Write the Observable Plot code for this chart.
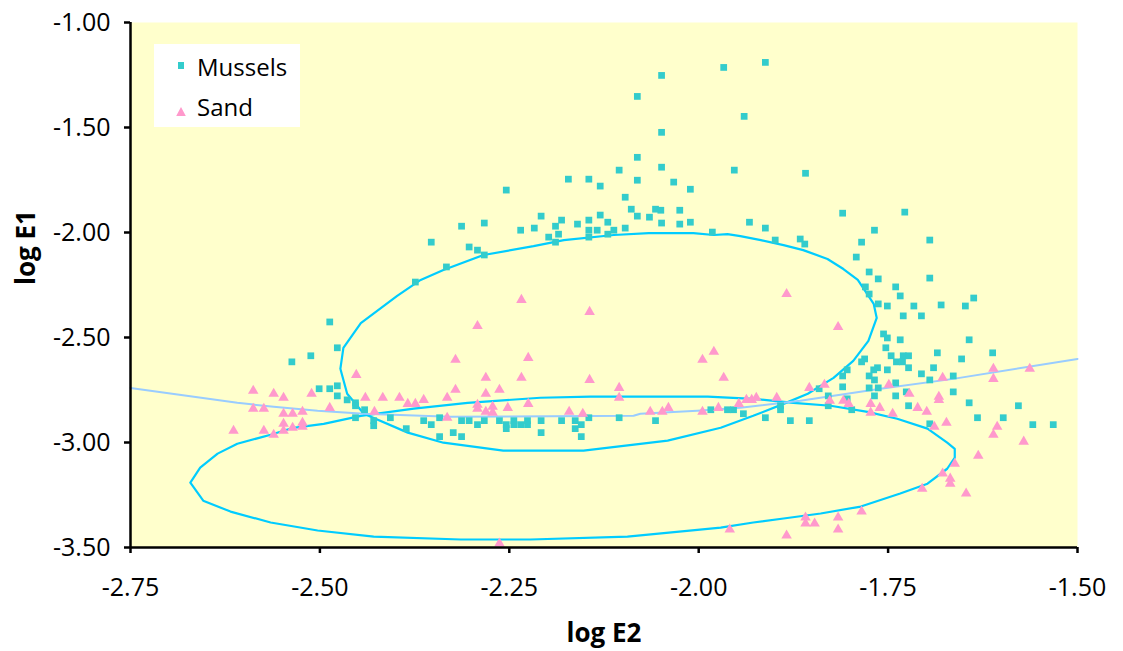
<!DOCTYPE html>
<html>
<head>
<meta charset="utf-8">
<script src="https://cdn.jsdelivr.net/npm/d3@7"></script>
<script src="https://cdn.jsdelivr.net/npm/@observablehq/plot@0.6"></script>
<style>
  body { margin: 0; background: white; }
  #wrap { position: relative; width: 1123px; height: 651px; }
  #legend { position: absolute; left: 154px; top: 44px; }
</style>
</head>
<body>
<div id="wrap"></div>
<script>
// Series names (legend order)
const seriesNames = ["Mussels", "Sand"];

// Axis ticks
const xTicks = [-2.75, -2.5, -2.25, -2.0, -1.75, -1.5];
const yTicks = [-3.5, -3.0, -2.5, -2.0, -1.5, -1.0];

// Mussels samples: [log E2, log E1]
const mussels = [
  [-2.353,-2.046],[-2.333,-2.164],[-1.967,-1.214],[-2.049,-1.252],[-2.081,-1.352],[-2.049,-1.523],[-2.081,-1.642],[-2.049,-1.689],[-1.953,-1.703],[-2.105,-1.703],
  [-2.172,-1.746],[-2.145,-1.746],[-2.081,-1.751],[-2.130,-1.779],[-2.254,-1.798],[-2.033,-1.760],[-2.011,-1.794],[-2.097,-1.832],[-2.089,-1.889],[-2.057,-1.889],
  [-2.050,-1.894],[-2.025,-1.894],[-2.081,-1.922],[-2.065,-1.927],[-2.130,-1.917],[-2.208,-1.922],[-2.181,-1.941],[-2.145,-1.941],[-2.120,-1.951],[-2.049,-1.955],
  [-2.025,-1.960],[-2.011,-1.951],[-2.313,-1.970],[-2.283,-1.955],[-2.189,-1.970],[-2.160,-1.960],[-2.235,-1.989],[-2.217,-1.979],[-2.145,-1.989],[-2.134,-1.989],
  [-2.112,-1.989],[-2.097,-1.979],[-2.198,-2.022],[-2.185,-2.008],[-2.145,-2.022],[-2.120,-2.008],[-2.189,-2.046],[-1.982,-1.998],[-2.303,-2.069],[-2.292,-2.084],
  [-2.283,-2.107],[-2.374,-2.236],[-1.912,-1.190],[-1.940,-1.447],[-1.859,-1.718],[-1.810,-1.908],[-1.728,-1.903],[-1.933,-1.951],[-1.912,-1.979],[-1.899,-2.036],
  [-1.866,-2.031],[-1.860,-2.055],[-1.768,-1.989],[-1.785,-2.046],[-1.695,-2.036],[-1.792,-2.117],[-1.775,-2.188],[-1.763,-2.221],[-1.695,-2.217],[-1.740,-2.259],
  [-1.780,-2.259],[-1.775,-2.293],[-1.734,-2.302],[-1.763,-2.340],[-1.751,-2.350],[-1.716,-2.350],[-1.680,-2.345],[-1.648,-2.350],[-1.637,-2.312],[-1.730,-2.397],
  [-1.706,-2.397],[-1.756,-2.483],[-1.751,-2.502],[-1.734,-2.511],[-1.643,-2.511],[-1.753,-2.549],[-1.612,-2.573],[-1.685,-2.573],[-1.746,-2.587],[-1.730,-2.587],
  [-1.723,-2.587],[-1.653,-2.602],[-1.781,-2.602],[-1.739,-2.616],[-1.731,-2.616],[-1.785,-2.616],[-1.804,-2.654],[-1.764,-2.644],[-1.751,-2.654],[-1.723,-2.644],
  [-1.690,-2.644],[-1.769,-2.654],[-1.810,-2.683],[-1.775,-2.683],[-1.768,-2.702],[-1.706,-2.673],[-1.695,-2.702],[-1.664,-2.683],[-1.740,-2.716],[-1.810,-2.735],
  [-1.775,-2.740],[-1.763,-2.740],[-1.841,-2.744],[-1.740,-2.778],[-1.768,-2.778],[-1.726,-2.759],[-1.664,-2.759],[-1.829,-2.778],[-1.804,-2.792],[-1.829,-2.825],
  [-1.798,-2.844],[-1.643,-2.811],[-1.723,-2.825],[-1.578,-2.825],[-1.892,-2.825],[-1.892,-2.844],[-1.941,-2.863],[-1.962,-2.844],[-1.954,-2.844],[-1.912,-2.882],
  [-1.879,-2.896],[-1.854,-2.896],[-1.695,-2.911],[-1.632,-2.882],[-1.598,-2.882],[-1.559,-2.915],[-1.532,-2.915],[-2.363,-2.896],[-2.353,-2.915],[-2.342,-2.882],
  [-2.342,-2.972],[-2.324,-2.953],[-2.313,-2.972],[-2.313,-2.896],[-2.303,-2.896],[-2.292,-2.915],[-2.283,-2.896],[-2.263,-2.896],[-2.254,-2.915],[-2.254,-2.934],
  [-2.244,-2.896],[-2.244,-2.915],[-2.235,-2.915],[-2.226,-2.896],[-2.226,-2.915],[-2.208,-2.896],[-2.208,-2.953],[-2.181,-2.896],[-2.163,-2.896],[-2.163,-2.934],
  [-2.155,-2.915],[-2.155,-2.972],[-2.145,-2.882],[-2.105,-2.882],[-2.057,-2.896],[-1.984,-2.844],[-2.487,-2.426],[-2.477,-2.549],[-2.537,-2.616],[-2.512,-2.587],
  [-2.501,-2.744],[-2.487,-2.744],[-2.477,-2.730],[-2.477,-2.778],[-2.464,-2.797],[-2.453,-2.811],[-2.453,-2.825],[-2.441,-2.844],[-2.453,-2.882],[-2.429,-2.896],
  [-2.429,-2.920],[-2.407,-2.882],[-2.386,-2.934]
];

// Sand samples: [log E2, log E1]
const sand = [
  [-2.614,-2.944],[-2.588,-2.754],[-2.588,-2.839],[-2.574,-2.839],[-2.574,-2.944],[-2.561,-2.768],[-2.561,-2.963],[-2.548,-2.787],[-2.548,-2.863],[-2.548,-2.911],
  [-2.548,-2.944],[-2.536,-2.863],[-2.536,-2.930],[-2.523,-2.854],[-2.523,-2.906],[-2.523,-2.925],[-2.511,-2.768],[-2.487,-2.835],[-2.452,-2.678],[-2.440,-2.787],
  [-2.428,-2.854],[-2.417,-2.787],[-2.395,-2.787],[-2.384,-2.816],[-2.374,-2.816],[-2.363,-2.797],[-2.332,-2.787],[-2.332,-2.882],[-2.321,-2.606],[-2.321,-2.749],
  [-2.292,-2.445],[-2.292,-2.820],[-2.292,-2.839],[-2.281,-2.692],[-2.281,-2.768],[-2.281,-2.854],[-2.272,-2.830],[-2.272,-2.858],[-2.263,-2.749],[-2.252,-2.835],
  [-2.234,-2.321],[-2.234,-2.692],[-2.225,-2.597],[-2.225,-2.816],[-2.171,-2.854],[-2.153,-2.863],[-2.144,-2.378],[-2.144,-2.702],[-2.105,-2.740],[-2.105,-2.787],
  [-2.064,-2.854],[-2.048,-2.854],[-2.040,-2.835],[-1.995,-2.606],[-1.995,-2.854],[-1.980,-2.568],[-1.974,-2.835],[-1.967,-2.692],[-1.947,-2.816],[-2.263,-3.481],
  [-1.959,-3.414],[-1.884,-2.293],[-1.816,-2.450],[-1.937,-2.797],[-1.930,-2.797],[-1.924,-2.787],[-1.897,-2.787],[-1.854,-2.740],[-1.834,-2.725],[-1.827,-2.801],
  [-1.809,-2.801],[-1.802,-2.816],[-1.773,-2.816],[-1.773,-2.858],[-1.761,-2.835],[-1.749,-2.725],[-1.744,-2.863],[-1.722,-2.768],[-1.711,-2.835],[-1.699,-2.854],
  [-1.683,-2.782],[-1.683,-2.797],[-1.678,-2.692],[-1.673,-2.906],[-1.689,-2.925],[-1.611,-2.649],[-1.611,-2.697],[-1.563,-2.649],[-1.606,-2.925],[-1.611,-2.963],
  [-1.571,-2.996],[-1.631,-3.063],[-1.662,-3.101],[-1.678,-3.148],[-1.668,-3.172],[-1.668,-3.196],[-1.705,-3.220],[-1.647,-3.243],[-1.785,-3.329],[-1.816,-3.357],
  [-1.816,-3.414],[-1.859,-3.357],[-1.859,-3.386],[-1.847,-3.386],[-1.884,-3.443]
];

// Confidence outline around the Mussels cloud
const musselsRing = [
  [-2.473,-2.649],[-2.469,-2.549],[-2.446,-2.431],[-2.398,-2.302],[-2.367,-2.226],[-2.337,-2.179],[-2.284,-2.107],[-2.218,-2.065],
  [-2.178,-2.036],[-2.112,-2.012],[-2.066,-2.003],[-2.007,-2.003],[-1.980,-2.012],[-1.962,-2.008],[-1.945,-2.017],[-1.918,-2.036],
  [-1.888,-2.060],[-1.862,-2.084],[-1.830,-2.126],[-1.809,-2.174],[-1.790,-2.226],[-1.769,-2.340],[-1.765,-2.407],[-1.776,-2.516],
  [-1.796,-2.611],[-1.822,-2.692],[-1.856,-2.768],[-1.888,-2.816],[-1.928,-2.873],[-1.971,-2.930],[-2.041,-2.991],[-2.152,-3.039],
  [-2.258,-3.039],[-2.337,-3.001],[-2.384,-2.953],[-2.442,-2.863],[-2.464,-2.768],[-2.473,-2.649]
];

// Confidence outline around the Sand cloud
const sandRing = [
  [-2.671,-3.191],[-2.658,-3.120],[-2.635,-3.053],[-2.609,-3.006],[-2.565,-2.963],[-2.535,-2.930],[-2.495,-2.911],[-2.446,-2.873],
  [-2.376,-2.839],[-2.305,-2.811],[-2.209,-2.787],[-2.143,-2.782],[-1.988,-2.782],[-1.928,-2.792],[-1.875,-2.811],[-1.826,-2.825],
  [-1.777,-2.854],[-1.738,-2.887],[-1.698,-2.934],[-1.672,-3.001],[-1.662,-3.030],[-1.662,-3.072],[-1.672,-3.125],[-1.698,-3.196],
  [-1.734,-3.243],[-1.786,-3.305],[-1.839,-3.338],[-1.888,-3.362],[-1.928,-3.381],[-1.971,-3.405],[-2.094,-3.448],[-2.222,-3.462],
  [-2.314,-3.462],[-2.429,-3.448],[-2.503,-3.419],[-2.565,-3.381],[-2.618,-3.329],[-2.654,-3.277],[-2.671,-3.191]
];

// Smoothed trend through both groups
const trend = [
  [-2.750,-2.740],[-2.609,-2.811],[-2.561,-2.830],[-2.503,-2.849],[-2.442,-2.863],[-2.328,-2.877],[-2.086,-2.873],
  [-2.077,-2.863],[-2.002,-2.849],[-1.945,-2.835],[-1.866,-2.801],[-1.760,-2.744],[-1.664,-2.697],[-1.500,-2.602]
];

const colors = { Mussels: "#33cccc", Sand: "#ff99cc", ring: "#00ccff", trend: "#99ccff" };
const fmt = d => d.toFixed(2);
const toRows = arr => arr.map(([x, y]) => ({ x, y }));

const chart = Plot.plot({
  width: 1123,
  height: 651,
  marginLeft: 130,
  marginRight: 46,
  marginTop: 22,
  marginBottom: 104,
  style: { fontFamily: "'Open Sans', sans-serif", fontSize: "25px", color: "black", background: "white" },
  x: { domain: [-2.75, -1.5] },
  y: { domain: [-3.5, -1.0] },
  marks: [
    Plot.frame({ fill: "#ffffcc", stroke: "none" }),
    Plot.line(toRows(musselsRing), { x: "x", y: "y", stroke: colors.ring, strokeWidth: 2.2 }),
    Plot.line(toRows(sandRing), { x: "x", y: "y", stroke: colors.ring, strokeWidth: 2.2 }),
    Plot.line(toRows(trend), { x: "x", y: "y", stroke: colors.trend, strokeWidth: 2 }),
    Plot.dot(toRows(mussels), { x: "x", y: "y", symbol: "square", r: 3.8, fill: colors.Mussels, stroke: "none" }),
    Plot.dot(toRows(sand), { x: "x", y: "y", symbol: "triangle", r: 3.9, fill: colors.Sand, stroke: "none" }),
    Plot.ruleX([-2.75], { stroke: "black", strokeWidth: 2.5 }),
    Plot.ruleY([-3.5], { stroke: "black", strokeWidth: 2.5 }),
    // tick marks
    Plot.axisY(yTicks, { tickSize: 6, strokeWidth: 2.5, fill: "none", label: null }),
    Plot.axisX(xTicks, { tickSize: 6, strokeWidth: 2.5, fill: "none", label: null }),
    // tick labels
    Plot.axisY(yTicks, { tickSize: 0, tickPadding: 20, tickFormat: fmt, fontSize: 25, label: null }),
    Plot.axisX(xTicks, { tickSize: 0, tickPadding: 31, tickFormat: fmt, fontSize: 25, label: null }),
    // axis titles
    Plot.text(["log E1"], { frameAnchor: "left", dx: -104, rotate: -90, fontWeight: "bold", fontSize: 26, lineAnchor: "middle" }),
    Plot.text(["log E2"], { frameAnchor: "bottom", lineAnchor: "bottom", dy: 94, fontWeight: "bold", fontSize: 26 })
  ]
});

const wrap = document.getElementById("wrap");
wrap.appendChild(chart);

// Legend box inside the plot area
const legend = d3.create("svg")
  .attr("id", "legend")
  .attr("width", 146)
  .attr("height", 83)
  .style("font-family", "'Open Sans', sans-serif")
  .style("font-size", "24px");
legend.append("rect").attr("width", 146).attr("height", 83).attr("fill", "white");
legend.append("rect").attr("x", 24).attr("y", 18).attr("width", 6).attr("height", 7).attr("fill", colors.Mussels);
legend.append("path").attr("d", "M27,63L31.8,72L22.2,72Z").attr("fill", colors.Sand);
legend.append("text").attr("x", 43).attr("y", 32).text(seriesNames[0]);
legend.append("text").attr("x", 43).attr("y", 72).text(seriesNames[1]);
wrap.appendChild(legend.node());
</script>
</body>
</html>
